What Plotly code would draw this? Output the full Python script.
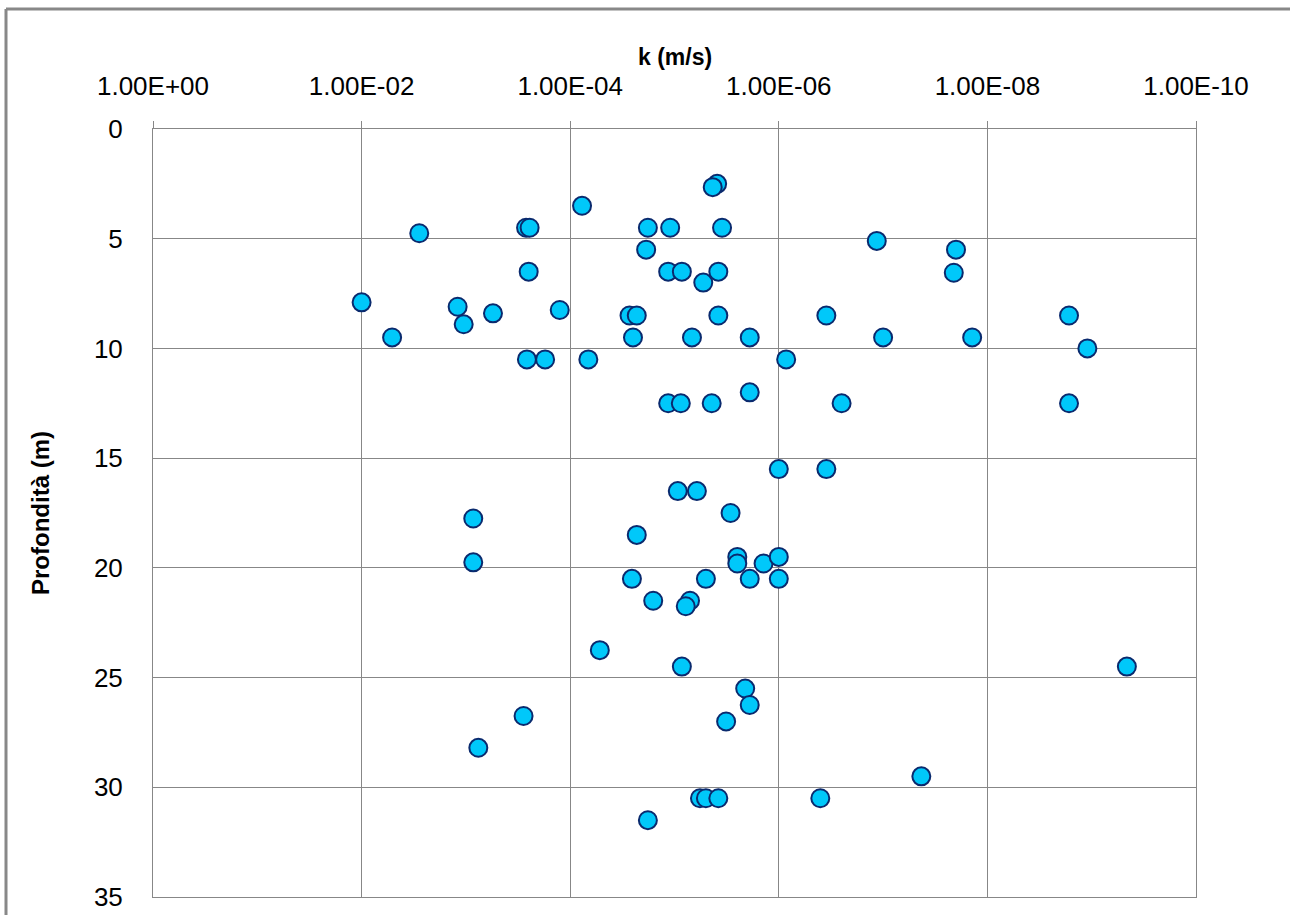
import plotly.graph_objects as go

# Hydraulic conductivity k (m/s) and depth (m)
k_values = [
    1.0e-2, 5.1e-3, 2.8e-3, 1.2e-3, 1.05e-3, 5.5e-4, 8.5e-4, 8.5e-4, 7.6e-4, 2.8e-4,
    2.65e-4, 2.45e-4, 2.5e-4, 2.6e-4, 1.74e-4, 1.26e-4, 7.7e-5, 6.7e-5, 5.2e-5, 2.7e-5,
    2.3e-5, 2.5e-5, 2.3e-5, 2.56e-5, 1.8e-5, 1.87e-5, 1.6e-5, 1.8e-5, 1.1e-5, 1.15e-5,
    8.5e-6, 1.15e-5, 8.7e-6, 4.4e-6, 1.9e-6, 2.5e-7, 9.3e-6, 6.1e-6, 2.9e-6, 2.5e-6,
    2.5e-6, 1.4e-6, 1.0e-6, 5.0e-6, 1.9e-6, 1.0e-6, 7.1e-6, 7.8e-6, 8.5e-6, 2.1e-6,
    1.9e-6, 3.2e-6, 5.7e-6, 5.0e-6, 3.8e-6, 4.0e-7, 4.3e-8, 3.9e-6, 4.3e-6, 3.5e-6,
    1.15e-7, 3.8e-6, 5.3e-6, 3.8e-6, 3.5e-7, 6.8e-6, 1.9e-6, 1.0e-7, 8.5e-7, 1.0e-6,
    3.5e-7, 2.0e-8, 2.1e-8, 1.4e-8, 1.65e-9, 1.1e-9, 1.65e-9, 4.6e-10,
]
depths = [
    7.9, 9.5, 4.75, 8.1, 8.9, 8.4, 17.75, 19.75, 28.2, 26.75,
    4.5, 4.5, 6.5, 10.5, 10.5, 8.25, 3.5, 10.5, 23.75, 8.5,
    8.5, 9.5, 18.5, 20.5, 4.5, 5.5, 21.5, 31.5, 4.5, 6.5,
    6.5, 12.5, 12.5, 12.5, 12.0, 12.5, 16.5, 16.5, 17.5, 19.5,
    19.8, 19.8, 19.5, 20.5, 20.5, 20.5, 21.5, 21.75, 24.5, 25.5,
    26.25, 27.0, 30.5, 30.5, 30.5, 30.5, 29.5, 2.5, 2.65, 4.5,
    5.1, 6.5, 7.0, 8.5, 8.5, 9.5, 9.5, 9.5, 10.5, 15.5,
    15.5, 5.5, 6.55, 9.5, 8.5, 10.0, 12.5, 24.5,
]

x_tick_vals = [1e0, 1e-2, 1e-4, 1e-6, 1e-8, 1e-10]
x_tick_text = ["1.00E+00", "1.00E-02", "1.00E-04", "1.00E-06", "1.00E-08", "1.00E-10"]
y_tick_vals = [0, 5, 10, 15, 20, 25, 30, 35]

x_title = "k (m/s)"
y_title = "Profondità (m)"

GRID = "#878787"
FONT = "Arial, Liberation Sans, sans-serif"

fig = go.Figure()
fig.add_trace(go.Scatter(
    x=k_values, y=depths, mode="markers",
    marker=dict(symbol="circle", size=18, color="#00C8FA",
                line=dict(color="#0A2A6E", width=2)),
    showlegend=False,
))

W, H = 1290, 915
L, R, T, B = 153, 94, 129, 18
pw, ph = W - L - R, H - T - B

fig.update_layout(
    width=W, height=H,
    margin=dict(l=L, r=R, t=T, b=B, autoexpand=False),
    paper_bgcolor="white", plot_bgcolor="white",
    font=dict(family=FONT, color="#000000", size=26),
    xaxis=dict(
        type="log", range=[0, -10], side="top",
        tickvals=x_tick_vals, ticktext=x_tick_text,
        showgrid=True, gridcolor=GRID, gridwidth=1,
        showline=True, linecolor=GRID, linewidth=1, mirror=True,
        ticks="outside", ticklen=7, tickcolor=GRID, tickwidth=1,
        ticklabelstandoff=16,
        tickfont=dict(size=26),
        zeroline=False,
    ),
    yaxis=dict(
        range=[35, 0], tickvals=y_tick_vals,
        showgrid=True, gridcolor=GRID, gridwidth=1,
        showline=True, linecolor=GRID, linewidth=1, mirror=True,
        ticks="", ticklabelstandoff=24,
        tickfont=dict(size=26),
        zeroline=False,
        title=dict(text=y_title, font=dict(size=24, family=FONT, weight="bold"), standoff=37),
    ),
)

# x-axis title placed like the original (above the top tick labels)
fig.add_annotation(text=x_title, xref="paper", yref="paper",
                   x=0.5, y=(H - B - 57) / ph, xanchor="center", yanchor="middle",
                   showarrow=False, font=dict(size=23, family=FONT, weight="bold"))

# outer chart-area border (only its left and top edges are inside the picture)
bx = (6 - L) / pw
by = (H - B - 9) / ph
fig.add_shape(type="line", xref="paper", yref="paper",
              x0=bx, x1=bx, y0=(H - B - H) / ph, y1=by,
              line=dict(color="#888888", width=3), layer="below")
fig.add_shape(type="line", xref="paper", yref="paper",
              x0=bx, x1=(W - L) / pw, y0=by, y1=by,
              line=dict(color="#888888", width=3), layer="below")

fig.write_html("out.html")
